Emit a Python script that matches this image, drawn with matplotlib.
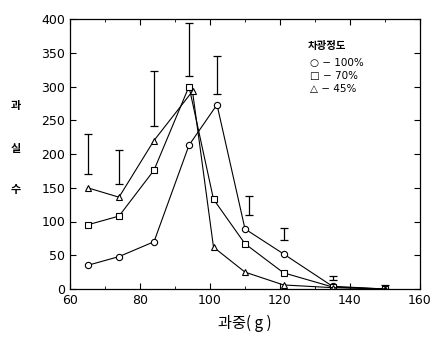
import numpy as np
import matplotlib
matplotlib.use("Agg")
import matplotlib.pyplot as plt

plt.rcParams['font.family'] = ['DejaVu Sans', 'Noto Sans CJK KR']

# fruit weight classes (g) and fruit counts per shading level
weight = [65, 74, 84, 94, 102, 110, 121, 135, 150]
shade_100 = [35, 48, 70, 213, 273, 89, 52, 4, 0]
weight_70 = [65, 74, 84, 94, 101, 110, 121, 135, 150]
shade_70 = [95, 108, 176, 300, 133, 67, 24, 3, 0]
weight_45 = [65, 74, 84, 95, 101, 110, 121, 135, 150]
shade_45 = [150, 136, 220, 293, 62, 25, 6, 2, 0]

# error bar ranges (low, high) drawn above the curves
err_x = [65, 74, 84, 94, 102, 111, 121, 135, 150]
err_lo = [171, 156, 241, 315, 289, 109, 73, 13, 0]
err_hi = [230, 206, 323, 394, 345, 138, 91, 19, 6]

fig = plt.figure(figsize=(4.43, 3.37), dpi=100)
ax = fig.add_axes([70/443, 48/337, 350/443, 270/337])

kw = dict(color='black', lw=0.8, mfc='white', mec='black', mew=0.8)
ax.plot(weight, shade_100, marker='o', ms=4.5, **kw)
ax.plot(weight_70, shade_70, marker='s', ms=4, **kw)
ax.plot(weight_45, shade_45, marker='^', ms=4.5, **kw)

lo = np.array(err_lo)
hi = np.array(err_hi)
mid = (lo + hi) / 2
ax.errorbar(err_x, mid, yerr=(hi - lo) / 2, fmt='none', ecolor='black',
            elinewidth=0.9, capsize=3, capthick=0.9)

ax.set_xlim(60, 160)
ax.set_ylim(0, 400)
ax.set_xticks(range(60, 161, 20))
ax.set_yticks(range(0, 401, 50))
ax.set_xticks(range(70, 160, 20), minor=True)
ax.tick_params(direction='in', top=True, right=True, labelsize=9, length=4, width=0.8)
ax.tick_params(which='minor', direction='in', top=True, length=2.5)
for s in ax.spines.values():
    s.set_linewidth(0.9)

ax.set_xlabel('과중( g )', family=['Noto Sans CJK KR'], fontsize=11, labelpad=6)
for ch, yy in zip(['과', '실', '수'], [105, 148, 190]):
    fig.text(16/443, 1 - yy/337, ch, family=['Noto Sans CJK KR'], fontsize=8,
             ha='center', va='center', weight='bold')

# legend as plain text
fig.text(308/443, 1 - 46/337, '차광정도', family=['Noto Sans CJK KR'], fontsize=7.5,
         va='center', weight='bold')
for sym, lab, yy in zip(['○', '□', '△'], ['100%', '70%', '45%'], [63, 76, 89]):
    fig.text(310/443, 1 - yy/337, sym + ' − ' + lab,
             family=['DejaVu Sans', 'Noto Sans CJK KR'], fontsize=7.5, va='center')

fig.savefig('out.png', dpi=100)
